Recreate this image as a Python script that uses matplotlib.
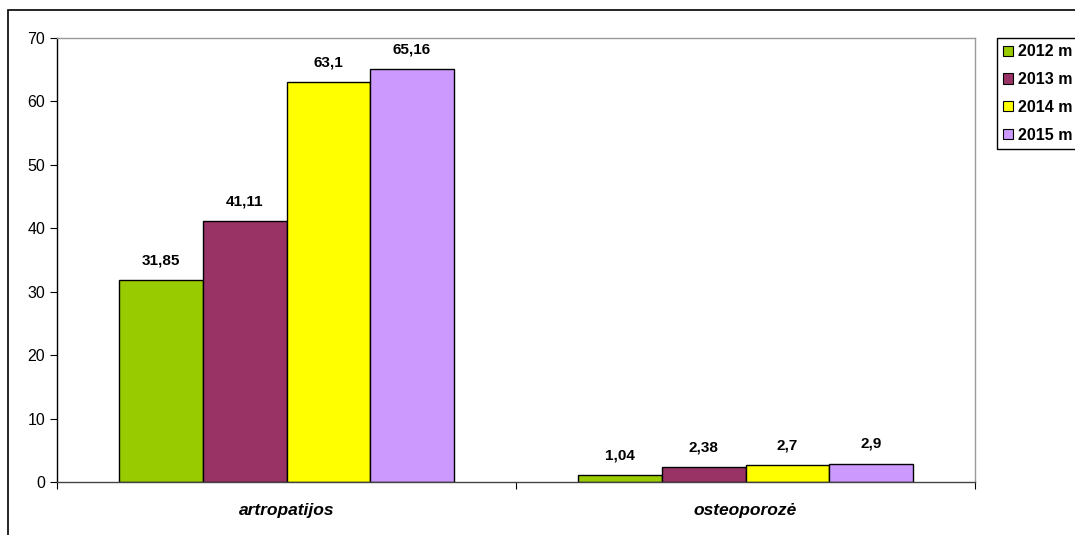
import numpy as np
import matplotlib.pyplot as plt
from matplotlib.patches import Rectangle, Patch

plt.rcParams['font.family'] = ['Liberation Sans', 'DejaVu Sans']

categories = ['artropatijos', 'osteoporozė']
years = ['2012 m', '2013 m', '2014 m', '2015 m']
values = [
    [31.85, 1.04],
    [41.11, 2.38],
    [63.1, 2.7],
    [65.16, 2.9],
]
labels = [
    ['31,85', '1,04'],
    ['41,11', '2,38'],
    ['63,1', '2,7'],
    ['65,16', '2,9'],
]
colors = ['#99cc00', '#993366', '#ffff00', '#cc99ff']

fig = plt.figure(figsize=(10.75, 5.35), dpi=100)
ax = fig.add_axes([57/1075, 53/535, 918/1075, 444/535])

# outer chart frame (cut off at right and bottom)
fig.patches.append(Rectangle((8/1075, -0.1), 1.2, 1 - 10/535 + 0.1,
                             transform=fig.transFigure, fill=False,
                             edgecolor='black', linewidth=1.2))

x = np.arange(len(categories))
w = 0.182
for i in range(len(years)):
    pos = x + (i - 1.5) * w
    ax.bar(pos, values[i], width=w, color=colors[i], edgecolor='black', linewidth=1)
    for p, v, t in zip(pos, values[i], labels[i]):
        ax.text(p, v + 2.0, t, ha='center', va='bottom', fontsize=11, fontweight='bold')

ax.set_xlim(-0.5, 1.5)
ax.set_ylim(0, 70)
ax.set_yticks(range(0, 71, 10))
ax.set_xticks([-0.5, 0.5, 1.5])
ax.set_xticklabels(['', '', ''])
for xi, c in zip(x, categories):
    ax.text(xi, -3.3, c, ha='center', va='top', fontsize=12.5, fontweight='bold',
            style='italic')
ax.tick_params(axis='y', labelsize=11.5, length=5, direction='out')
ax.tick_params(axis='x', length=5, direction='out')

ax.spines['left'].set_color('black')
ax.spines['bottom'].set_color('#444444')
ax.spines['top'].set_color('#999999')
ax.spines['right'].set_color('#999999')
for s in ax.spines.values():
    s.set_linewidth(1)

handles = [Patch(facecolor=c, edgecolor='black', linewidth=0.8) for c in colors]
leg = fig.legend(handles, years, loc='upper left',
                 bbox_to_anchor=(997/1075, 1 - 38/535),
                 prop={'size': 11.5, 'weight': 'bold'},
                 handlelength=0.6, handleheight=0.6, handletextpad=0.3,
                 labelspacing=0.8, borderpad=0.4, borderaxespad=0,
                 fancybox=False, framealpha=1)
leg.get_frame().set_edgecolor('black')
leg.get_frame().set_linewidth(1)

fig.savefig('out.png', dpi=100)
